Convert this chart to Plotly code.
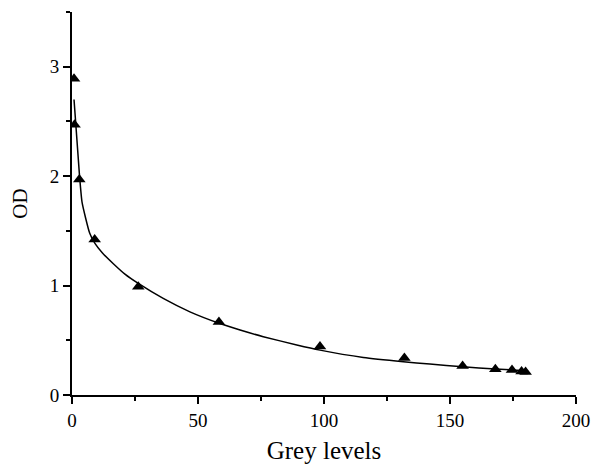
import plotly.graph_objects as go

# measured points (triangles)
grey_pts = [0.8, 1.0, 2.9, 9.0, 26.3, 58.3, 98.4, 131.9, 155, 168, 174.6, 178.4, 180]
od_pts = [2.89, 2.47, 1.97, 1.42, 0.99, 0.667, 0.443, 0.337, 0.265, 0.235, 0.228, 0.215, 0.21]

# fitted curve
grey_fit = [0.8, 2.9, 4, 7, 9.1, 12, 16.4, 21, 26.3, 36.2, 46.8, 58.7, 66.7, 75.9, 89.2,
            98.4, 115.6, 131.5, 142, 155, 168, 180]
od_fit = [2.70, 2.03, 1.76, 1.48, 1.385, 1.30, 1.20, 1.105, 1.02, 0.883, 0.76, 0.653, 0.594,
          0.533, 0.457, 0.41, 0.343, 0.304, 0.283, 0.258, 0.237, 0.222]

x_ticks = [0, 50, 100, 150, 200]
y_ticks = [0, 1, 2, 3]

fig = go.Figure()
fig.add_trace(go.Scatter(x=grey_fit, y=od_fit, mode="lines",
                         line=dict(color="black", width=1.5, shape="spline", smoothing=0.5),
                         showlegend=False, hoverinfo="skip"))
fig.add_trace(go.Scatter(x=grey_pts, y=od_pts, mode="markers",
                         marker=dict(symbol="triangle-up", size=11, color="black"),
                         showlegend=False))

font = dict(family="Liberation Serif", color="black")
fig.update_layout(
    width=593, height=465,
    margin=dict(l=72, r=17, t=12, b=70),
    plot_bgcolor="white", paper_bgcolor="white",
    font=dict(family="Liberation Serif", size=18, color="black"),
    xaxis=dict(range=[0, 200], tickvals=x_ticks, showgrid=False, zeroline=False,
               showline=True, linecolor="black", linewidth=2, automargin=False,
               ticks="outside", ticklen=7, tickwidth=2, tickcolor="black",
               minor=dict(ticks="outside", ticklen=4, tickwidth=2, dtick=25, tickcolor="black"),
               title=dict(text="Grey levels", font=dict(size=25, **font), standoff=12),
               tickfont=dict(size=19, **font)),
    yaxis=dict(range=[0, 3.5], tickvals=y_ticks, showgrid=False, zeroline=False,
               showline=True, linecolor="black", linewidth=2, automargin=False,
               ticks="outside", ticklen=7, tickwidth=2, tickcolor="black",
               minor=dict(ticks="outside", ticklen=4, tickwidth=2, dtick=0.5, tickcolor="black"),
               title=dict(text="OD", font=dict(size=21, **font), standoff=16),
               tickfont=dict(size=19, **font)),
)
fig.write_html("out.html")
